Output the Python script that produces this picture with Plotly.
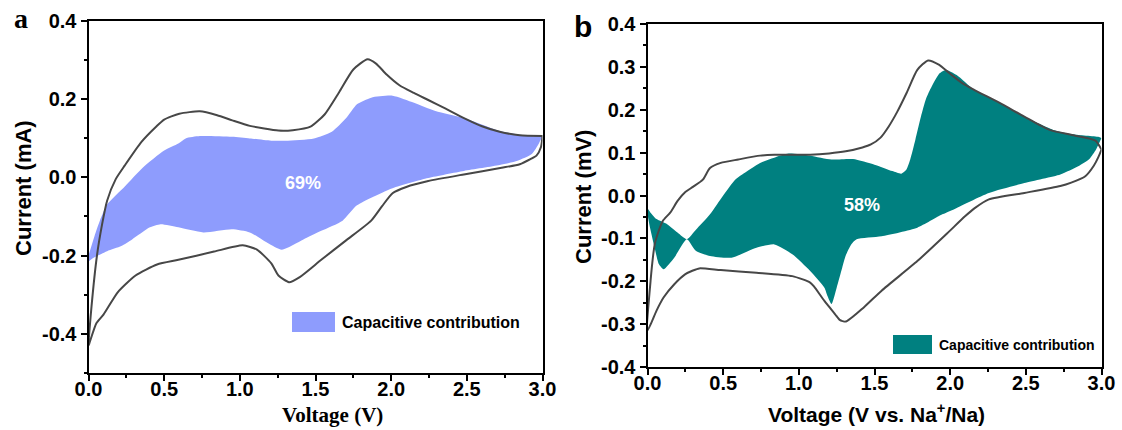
import plotly.graph_objects as go

W, H = 1122, 430

# ---------------- Panel a data ----------------
a_cv_up_v = [0.0, 0.02, 0.056, 0.09, 0.123, 0.18, 0.24, 0.35, 0.45, 0.5, 0.6, 0.736, 0.85, 0.95, 1.066,
             1.255, 1.35, 1.467, 1.56, 1.656, 1.75, 1.844, 1.9, 1.97, 2.057, 2.15, 2.245, 2.36, 2.481,
             2.6, 2.717, 2.85, 3.0]
a_cv_up_i = [-0.43, -0.33, -0.2, -0.12, -0.06, -0.005, 0.03, 0.09, 0.13, 0.147, 0.162, 0.168, 0.158, 0.145,
             0.131, 0.119, 0.12, 0.129, 0.16, 0.217, 0.275, 0.301, 0.29, 0.262, 0.234, 0.215, 0.197, 0.175,
             0.151, 0.13, 0.116, 0.107, 0.105]
a_cv_dn_v = [3.0, 2.99, 2.96, 2.92, 2.85, 2.73, 2.48, 2.245, 2.1, 2.009, 1.94, 1.868, 1.7, 1.538, 1.396,
             1.325, 1.255, 1.208, 1.113, 1.019, 0.83, 0.594, 0.453, 0.311, 0.193, 0.099, 0.052, 0.005, 0.0]
a_cv_dn_i = [0.105, 0.077, 0.055, 0.046, 0.033, 0.024, 0.007, -0.01, -0.025, -0.041, -0.074, -0.111, -0.162,
             -0.211, -0.255, -0.268, -0.251, -0.22, -0.185, -0.174, -0.19, -0.211, -0.223, -0.251, -0.294,
             -0.351, -0.373, -0.425, -0.43]

a_cap_up_v = [0.0, 0.04, 0.075, 0.123, 0.24, 0.358, 0.5, 0.594, 0.642, 0.736, 0.948, 1.066, 1.208, 1.302,
              1.49, 1.608, 1.703, 1.774, 1.868, 2.009, 2.151, 2.292, 2.481, 2.717, 2.906, 3.0]
a_cap_up_i = [-0.2, -0.15, -0.111, -0.07, -0.024, 0.024, 0.068, 0.086, 0.099, 0.105, 0.103, 0.099, 0.093,
              0.093, 0.099, 0.116, 0.151, 0.186, 0.203, 0.208, 0.19, 0.169, 0.151, 0.118, 0.105, 0.105]
a_cap_dn_v = [3.0, 2.976, 2.929, 2.835, 2.717, 2.481, 2.245, 2.009, 1.774, 1.679, 1.538, 1.42, 1.278, 1.184,
              1.066, 0.948, 0.759, 0.594, 0.476, 0.406, 0.288, 0.217, 0.123, 0.028, 0.0]
a_cap_dn_i = [0.105, 0.086, 0.059, 0.042, 0.031, 0.016, -0.002, -0.028, -0.072, -0.111, -0.137, -0.159,
              -0.185, -0.168, -0.141, -0.133, -0.141, -0.128, -0.12, -0.128, -0.159, -0.176, -0.189, -0.207,
              -0.215]

# ---------------- Panel b data ----------------
b_cv_up_v = [0.0, 0.02, 0.05, 0.1, 0.15, 0.2, 0.25, 0.3, 0.366, 0.413, 0.484, 0.6, 0.744, 0.838, 1.075, 1.2,
             1.31, 1.42, 1.476, 1.54, 1.594, 1.65, 1.712, 1.783, 1.854, 1.925, 1.996, 2.08, 2.161, 2.327,
             2.49, 2.657, 2.822, 2.96, 3.0]
b_cv_up_i = [-0.315, -0.2, -0.11, -0.06, -0.04, -0.012, 0.008, 0.02, 0.037, 0.064, 0.076, 0.084, 0.093,
             0.095, 0.095, 0.098, 0.103, 0.112, 0.119, 0.135, 0.161, 0.195, 0.239, 0.293, 0.315, 0.305,
             0.285, 0.262, 0.246, 0.216, 0.184, 0.153, 0.14, 0.128, 0.107]
b_cv_dn_v = [3.0, 2.98, 2.95, 2.893, 2.8, 2.728, 2.49, 2.256, 2.16, 2.1, 1.972, 1.783, 1.547, 1.429, 1.311,
             1.27, 1.24, 1.169, 1.1, 1.075, 0.957, 0.72, 0.484, 0.342, 0.3, 0.248, 0.177, 0.106, 0.059, 0.0]
b_cv_dn_i = [0.107, 0.09, 0.07, 0.045, 0.03, 0.022, 0.006, -0.009, -0.03, -0.048, -0.091, -0.153, -0.222,
             -0.261, -0.294, -0.29, -0.277, -0.246, -0.212, -0.203, -0.188, -0.18, -0.174, -0.17, -0.175,
             -0.184, -0.207, -0.238, -0.269, -0.315]

b_cap_up_v = [0.0, 0.02, 0.06, 0.13, 0.2, 0.26, 0.32, 0.413, 0.5, 0.579, 0.626, 0.744, 0.85, 0.933, 1.075,
              1.216, 1.358, 1.5, 1.618, 1.677, 1.71, 1.736, 1.77, 1.807, 1.84, 1.878, 1.93, 1.972, 2.043,
              2.161, 2.327, 2.49, 2.68, 2.822, 2.988, 3.0]
b_cap_up_i = [-0.03, -0.04, -0.055, -0.067, -0.087, -0.102, -0.08, -0.044, 0.0, 0.037, 0.049, 0.076, 0.09,
              0.098, 0.093, 0.084, 0.085, 0.072, 0.057, 0.051, 0.06, 0.084, 0.13, 0.184, 0.225, 0.254,
              0.285, 0.293, 0.281, 0.246, 0.216, 0.184, 0.153, 0.142, 0.136, 0.134]
b_cap_dn_v = [3.0, 2.964, 2.92, 2.846, 2.728, 2.49, 2.256, 2.02, 1.948, 1.783, 1.547, 1.382, 1.346, 1.31,
              1.287, 1.25, 1.216, 1.19, 1.169, 1.075, 0.957, 0.838, 0.72, 0.555, 0.413, 0.319, 0.26, 0.177,
              0.106, 0.075, 0.047, 0.012, 0.0]
b_cap_dn_i = [0.134, 0.107, 0.085, 0.068, 0.049, 0.029, 0.006, -0.033, -0.044, -0.075, -0.095, -0.102,
              -0.114, -0.14, -0.168, -0.215, -0.253, -0.235, -0.215, -0.176, -0.137, -0.114, -0.122, -0.145,
              -0.141, -0.129, -0.102, -0.145, -0.172, -0.16, -0.122, -0.067, -0.044]

x_ticks = [0.0, 0.5, 1.0, 1.5, 2.0, 2.5, 3.0]
a_yticks = [-0.4, -0.2, 0.0, 0.2, 0.4]
b_yticks = [-0.4, -0.3, -0.2, -0.1, 0.0, 0.1, 0.2, 0.3, 0.4]

BLUE = "#8e9cfd"
TEAL = "#008080"
LINE = "#474747"
SANS = "Liberation Sans, Arial, sans-serif"
SERIF = "Liberation Serif, Times New Roman, serif"


def px(x):
    return x / W


def py(y):
    return 1 - y / H


fig = go.Figure()

# panel a
fig.add_trace(go.Scatter(x=a_cap_up_v + a_cap_dn_v, y=a_cap_up_i + a_cap_dn_i, fill="toself",
                         fillcolor=BLUE, line=dict(width=0, color=BLUE, shape="spline", smoothing=0.6),
                         mode="lines", xaxis="x", yaxis="y", showlegend=False, hoverinfo="skip"))
fig.add_trace(go.Scatter(x=a_cv_up_v + a_cv_dn_v, y=a_cv_up_i + a_cv_dn_i, mode="lines",
                         line=dict(color=LINE, width=2, shape="spline", smoothing=0.6),
                         xaxis="x", yaxis="y", showlegend=False))
# panel b
fig.add_trace(go.Scatter(x=b_cap_up_v + b_cap_dn_v, y=b_cap_up_i + b_cap_dn_i, fill="toself",
                         fillcolor=TEAL, line=dict(width=0, color=TEAL, shape="spline", smoothing=0.6),
                         mode="lines", xaxis="x2", yaxis="y2", showlegend=False, hoverinfo="skip"))
fig.add_trace(go.Scatter(x=b_cv_up_v + b_cv_dn_v, y=b_cv_up_i + b_cv_dn_i, mode="lines",
                         line=dict(color=LINE, width=2, shape="spline", smoothing=0.6),
                         xaxis="x2", yaxis="y2", showlegend=False))

tickfont = dict(family=SANS, size=20, color="black", weight="bold")
common = dict(showline=True, linecolor="black", linewidth=2, mirror=True, ticks="outside",
              ticklen=6, tickwidth=2, tickcolor="black", showgrid=False, zeroline=False,
              tickfont=tickfont, automargin=False)

fig.update_layout(
    width=W, height=H, margin=dict(l=0, r=0, t=0, b=0, autoexpand=False),
    paper_bgcolor="white", plot_bgcolor="white",
    xaxis=dict(domain=[px(88.5), px(542.5)], anchor="y", range=[0, 3], tickvals=x_ticks,
               ticktext=[f"{v:.1f}" for v in x_ticks], ticklabelstandoff=-9,
               minor=dict(dtick=0.25, ticks="outside", ticklen=3, tickwidth=2, tickcolor="black"),
               **common),
    yaxis=dict(domain=[py(373), py(20.5)], anchor="x", range=[-0.5, 0.4], tickvals=a_yticks,
               ticktext=[f"{v:.1f}" for v in a_yticks],
               minor=dict(dtick=0.1, ticks="outside", ticklen=3, tickwidth=2, tickcolor="black"),
               **common),
    xaxis2=dict(domain=[px(647.5), px(1101.5)], anchor="y2", range=[0, 3], tickvals=x_ticks,
                ticktext=[f"{v:.1f}" for v in x_ticks], ticklabelstandoff=-9,
                minor=dict(dtick=0.25, ticks="outside", ticklen=3, tickwidth=2, tickcolor="black"),
                **common),
    yaxis2=dict(domain=[py(367), py(24)], anchor="x2", range=[-0.4, 0.4], tickvals=b_yticks,
                ticktext=[f"{v:.1f}" for v in b_yticks],
                minor=dict(dtick=0.05, ticks="outside", ticklen=3, tickwidth=2, tickcolor="black"),
                **common),
)

# axis titles
fig.add_annotation(xref="paper", yref="paper", x=px(332), y=py(415), text="Voltage (V)", showarrow=False,
                   xanchor="center", yanchor="middle",
                   font=dict(family=SERIF, size=21, color="black", weight="bold"))
fig.add_annotation(xref="paper", yref="paper", x=px(876), y=py(413), text="Voltage (V vs. Na<sup>+</sup>/Na)",
                   showarrow=False, xanchor="center", yanchor="middle",
                   font=dict(family=SANS, size=21, color="black", weight="bold"))
fig.add_annotation(xref="paper", yref="paper", x=px(23), y=py(188), text="Current (mA)", showarrow=False,
                   textangle=-90, xanchor="center", yanchor="middle",
                   font=dict(family=SANS, size=22, color="black", weight="bold"))
fig.add_annotation(xref="paper", yref="paper", x=px(583), y=py(197), text="Current (mV)", showarrow=False,
                   textangle=-90, xanchor="center", yanchor="middle",
                   font=dict(family=SANS, size=22, color="black", weight="bold"))

# legend patches (drawn as layout shapes) and labels
fig.add_shape(type="rect", xref="paper", yref="paper", x0=px(292), x1=px(335), y0=py(332), y1=py(312),
              fillcolor=BLUE, line=dict(width=0))
fig.add_shape(type="rect", xref="paper", yref="paper", x0=px(893), x1=px(932), y0=py(354), y1=py(335),
              fillcolor=TEAL, line=dict(width=0))

fig.add_annotation(xref="paper", yref="paper", x=px(340), y=py(322.5), text="Capacitive contribution",
                   showarrow=False, xanchor="left", yanchor="middle",
                   font=dict(family=SANS, size=16, color="black", weight="bold"))
fig.add_annotation(xref="paper", yref="paper", x=px(937), y=py(345), text="Capacitive contribution",
                   showarrow=False, xanchor="left", yanchor="middle",
                   font=dict(family=SANS, size=14, color="black", weight="bold"))

# percentages
fig.add_annotation(xref="x", yref="y", x=1.42, y=-0.015, text="69%", showarrow=False,
                   font=dict(family=SANS, size=18, color="white", weight="bold"))
fig.add_annotation(xref="x2", yref="y2", x=1.417, y=-0.022, text="58%", showarrow=False,
                   font=dict(family=SANS, size=18, color="white", weight="bold"))

# panel letters
fig.add_annotation(xref="paper", yref="paper", x=px(21), y=py(18.5), text="a", showarrow=False,
                   xanchor="center", yanchor="middle",
                   font=dict(family=SERIF, size=28, color="black", weight="bold"))
fig.add_annotation(xref="paper", yref="paper", x=px(582.5), y=py(26), text="b", showarrow=False,
                   xanchor="center", yanchor="middle",
                   font=dict(family=SANS, size=30, color="black", weight="bold"))

fig.write_html("out.html", config={"displayModeBar": False},
               post_script="document.body.style.margin='0px';document.body.style.overflow='hidden';")
